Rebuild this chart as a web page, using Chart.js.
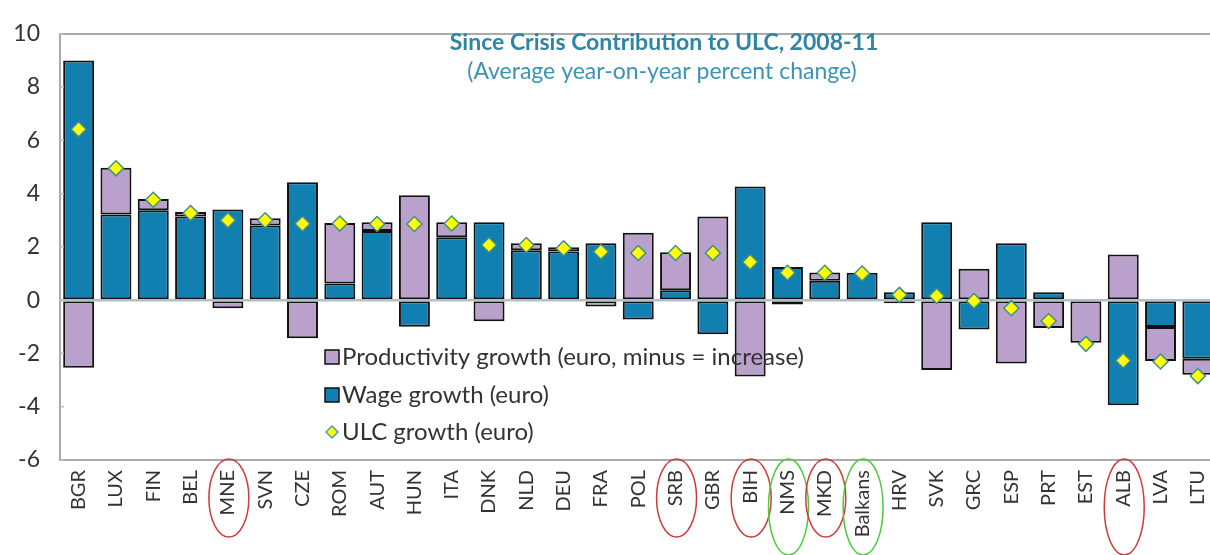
<!DOCTYPE html>
<html>
<head>
<meta charset="utf-8">
<title>Since Crisis Contribution to ULC, 2008-11</title>
<script src="https://cdn.jsdelivr.net/npm/chart.js@4.4.1/dist/chart.umd.min.js"></script>
<style>
  html, body { margin: 0; padding: 0; background: #fff; overflow: hidden; }
  #wrap { position: relative; width: 1232px; height: 555px; }
</style>
</head>
<body>
<div id="wrap"><canvas id="ulcChart" width="1232" height="555"></canvas></div>
<script>
// ---- data ----
const categories = ['BGR','LUX','FIN','BEL','MNE','SVN','CZE','ROM','AUT','HUN','ITA','DNK','NLD','DEU','FRA','POL',
                    'SRB','GBR','BIH','NMS','MKD','Balkans','HRV','SVK','GRC','ESP','PRT','EST','ALB','LVA','LTU'];
const wageGrowth = [9.0, 3.22, 3.38, 3.14, 3.4, 2.8, 4.43, 0.63, 2.6, -1.0, 2.36, 2.93, 1.87, 1.83, 2.14, -0.73,
                    0.37, -1.28, 4.27, 1.25, 0.73, 1.03, 0.3, 2.93, -1.1, 2.14, 0.3, 0, -3.94, -1.01, -2.2];
const productivityGrowth = [-2.54, 1.75, 0.42, 0.17, -0.3, 0.28, -1.43, 2.27, 0.33, 3.94, 0.57, -0.79, 0.27, 0.16, -0.24, 2.53,
                    1.43, 3.14, -2.87, -0.16, 0.31, 0, -0.12, -2.62, 1.18, -2.38, -1.04, -1.6, 1.71, -1.27, -0.6];
const ulcGrowth = [6.42, 4.95, 3.77, 3.27, 3.0, 3.0, 2.87, 2.88, 2.86, 2.86, 2.88, 2.07, 2.07, 1.95, 1.82, 1.77,
                    1.77, 1.77, 1.43, 1.03, 1.03, 1.0, 0.2, 0.16, -0.03, -0.3, -0.78, -1.64, -2.27, -2.3, -2.85];
const yTicks = [-6, -4, -2, 0, 2, 4, 6, 8, 10];

// circled labels
const circledRed = ['MNE', 'SRB', 'BIH', 'MKD', 'ALB'];
const circledGreen = ['NMS', 'Balkans'];

const TEAL = '#1180b0';
const LILAC = '#b9a1cb';
const FONT = 'Lato, "Open Sans", sans-serif';

// title, legend, zero line and circles
const extras = {
  id: 'extras',
  beforeDatasetDraw(chart, args) {
    // zero line goes over the bars but under the diamonds
    if (args.index !== 2) return;
    const { ctx, chartArea, scales } = chart;
    const y0 = scales.y.getPixelForValue(0);
    ctx.save();
    ctx.strokeStyle = '#b3bfc7';
    ctx.lineWidth = 2.5;
    ctx.beginPath();
    ctx.moveTo(chartArea.left, y0);
    ctx.lineTo(chartArea.right, y0);
    ctx.stroke();
    // little inner ticks on the y axis
    ctx.strokeStyle = '#bbb';
    ctx.lineWidth = 1.5;
    yTicks.forEach(v => {
      const y = scales.y.getPixelForValue(v);
      ctx.beginPath();
      ctx.moveTo(chartArea.left, y);
      ctx.lineTo(chartArea.left + 4, y);
      ctx.stroke();
    });
    ctx.restore();
  },
  afterDraw(chart) {
    const { ctx, scales } = chart;
    ctx.save();
    // title
    ctx.textAlign = 'center';
    ctx.textBaseline = 'middle';
    ctx.fillStyle = '#2d86a8';
    ctx.font = 'bold 23px ' + FONT;
    ctx.fillText('Since Crisis Contribution to ULC, 2008-11', 664, 43);
    ctx.fillStyle = '#3b93b5';
    ctx.font = '23px ' + FONT;
    ctx.fillText('(Average year-on-year percent change)', 662, 72);

    // legend
    ctx.textAlign = 'left';
    ctx.font = '24px ' + FONT;
    const lx = 325;
    const rows = [357, 395, 432];
    ctx.lineWidth = 1.5;
    ctx.strokeStyle = '#111';
    ctx.fillStyle = LILAC;
    ctx.fillRect(lx, rows[0] - 7, 14, 14);
    ctx.strokeRect(lx, rows[0] - 7, 14, 14);
    ctx.fillStyle = TEAL;
    ctx.fillRect(lx, rows[1] - 7, 14, 14);
    ctx.strokeRect(lx, rows[1] - 7, 14, 14);
    ctx.beginPath();
    ctx.moveTo(lx + 7, rows[2] - 6);
    ctx.lineTo(lx + 13, rows[2]);
    ctx.lineTo(lx + 7, rows[2] + 6);
    ctx.lineTo(lx + 1, rows[2]);
    ctx.closePath();
    ctx.fillStyle = '#ffff00';
    ctx.fill();
    ctx.strokeStyle = '#4a9cc0';
    ctx.stroke();
    ctx.fillStyle = '#333';
    ctx.fillText('Productivity growth (euro, minus = increase)', lx + 17, rows[0]);
    ctx.fillText('Wage growth (euro)', lx + 17, rows[1]);
    ctx.fillText('ULC growth (euro)', lx + 17, rows[2]);

    // circles round some labels
    ctx.lineWidth = 1.5;
    categories.forEach((c, i) => {
      let col = null;
      if (circledRed.includes(c)) col = '#d23a3a';
      if (circledGreen.includes(c)) col = '#4ccc3c';
      if (!col) return;
      const x = scales.x.getPixelForTick(i);
      const tall = (c === 'NMS' || c === 'Balkans' || c === 'ALB');
      ctx.strokeStyle = col;
      ctx.beginPath();
      ctx.ellipse(x + 1, tall ? 507 : 498, 20, tall ? 48 : 39, 0, 0, Math.PI * 2);
      ctx.stroke();
    });
    ctx.restore();
  }
};

const ctx = document.getElementById('ulcChart').getContext('2d');
new Chart(ctx, {
  type: 'bar',
  data: {
    labels: categories,
    datasets: [
      {
        label: 'Wage growth (euro)',
        data: wageGrowth,
        backgroundColor: TEAL,
        borderColor: '#111',
        borderWidth: 2,
        borderSkipped: false,
        stack: 'bars',
        order: 1
      },
      {
        label: 'Productivity growth (euro, minus = increase)',
        data: productivityGrowth,
        backgroundColor: LILAC,
        borderColor: '#111',
        borderWidth: 2,
        borderSkipped: false,
        stack: 'bars',
        order: 1
      },
      {
        type: 'line',
        label: 'ULC growth (euro)',
        data: ulcGrowth,
        showLine: false,
        pointStyle: 'rectRot',
        pointRadius: 7.5,
        pointBackgroundColor: '#ffff00',
        pointBorderColor: '#3f8f8a',
        pointBorderWidth: 1.5,
        stack: 'ulc',
        order: 0
      }
    ]
  },
  options: {
    responsive: false,
    animation: false,
    devicePixelRatio: 1,
    layout: { padding: { top: 22, right: 10, left: 0, bottom: 0 } },
    datasets: { bar: { categoryPercentage: 1, barPercentage: 0.83 } },
    scales: {
      x: {
        stacked: true,
        grid: { display: false, drawTicks: false },
        border: { display: true, color: '#aaa', width: 2 },
        ticks: {
          color: '#333',
          font: { family: FONT, size: 20 },
          minRotation: 90,
          maxRotation: 90,
          autoSkip: false,
          padding: 10
        },
        afterFit(s) { s.height = 95; }
      },
      y: {
        stacked: true,
        min: -6,
        max: 10,
        afterBuildTicks(s) { s.ticks = yTicks.map(v => ({ value: v })); },
        grid: {
          drawTicks: false,
          color: c => (c.tick && c.tick.value === 10 ? '#aaa' : 'rgba(0,0,0,0)'),
          lineWidth: 2
        },
        border: { display: true, color: '#aaa', width: 2 },
        ticks: {
          color: '#333',
          font: { family: FONT, size: 23 },
          padding: 20
        },
        afterFit(s) { s.width = 60; }
      }
    },
    plugins: {
      legend: { display: false },
      title: { display: false },
      tooltip: { enabled: false }
    }
  },
  plugins: [extras]
});
</script>
</body>
</html>
